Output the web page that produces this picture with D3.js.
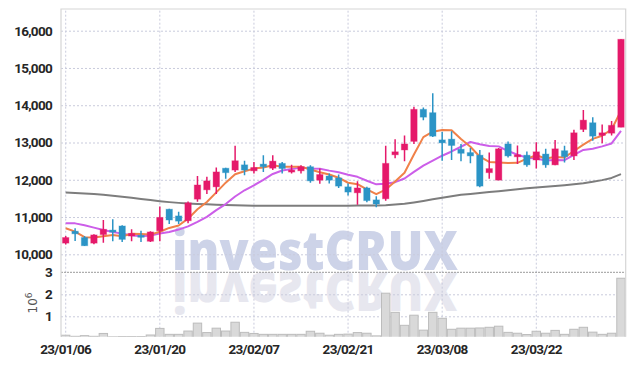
<!DOCTYPE html>
<html>
<head>
<meta charset="utf-8">
<script src="https://cdn.jsdelivr.net/npm/d3@7"></script>
<style>
  body { margin: 0; background: #fff; }
  .tick text { font-family: Roboto, "Liberation Sans Narrow", sans-serif; font-weight: bold; letter-spacing: -0.7px; }
</style>
</head>
<body>
<svg id="chart" width="634" height="366"></svg>
<script>
// trading days (yy/mm/dd)
var dates = ["23/01/06","23/01/09","23/01/10","23/01/11","23/01/12","23/01/13","23/01/16","23/01/17","23/01/18","23/01/19",
  "23/01/20","23/01/25","23/01/26","23/01/27","23/01/30","23/01/31","23/02/01","23/02/02","23/02/03","23/02/06",
  "23/02/07","23/02/08","23/02/09","23/02/10","23/02/13","23/02/14","23/02/15","23/02/16","23/02/17","23/02/20",
  "23/02/21","23/02/22","23/02/23","23/02/24","23/02/27","23/02/28","23/03/02","23/03/03","23/03/06","23/03/07",
  "23/03/08","23/03/09","23/03/10","23/03/13","23/03/14","23/03/15","23/03/16","23/03/17","23/03/20","23/03/21",
  "23/03/22","23/03/23","23/03/24","23/03/27","23/03/28","23/03/29","23/03/30","23/03/31","23/04/03","23/04/04"];

var opens = [10300,10620,10450,10300,10530,10650,10760,10490,10510,10350,10630,11210,11030,10900,11480,11730,11810,12310,12260,12400,
  12240,12420,12310,12440,12230,12240,12350,11990,12100,12050,11810,11650,11780,11460,11490,12670,12800,13030,13890,13800,
  13070,13090,12820,12730,12660,12190,11990,12960,12620,12660,12530,12690,12400,12780,12640,13350,13530,13190,13250,13410];
var highs = [10490,10700,10490,10540,10920,10940,10780,10670,10630,10620,11280,11220,11140,11420,12100,12080,12330,12320,12910,12510,
  12480,12660,12660,12480,12400,12390,12390,12300,12170,12140,11900,11960,11810,11560,12910,13090,13190,13960,13940,14320,
  13280,13300,12960,12850,12800,12730,12850,13030,12920,12760,13010,12830,13070,12910,13340,13870,13680,13480,13580,15770];
var lows = [10260,10360,10220,10270,10310,10350,10330,10350,10330,10330,10350,10810,10810,10830,11410,11620,11620,12030,12210,12120,
  12170,12210,12260,12170,12170,12170,11920,11890,11900,11780,11580,11330,11400,11260,11440,12580,12500,12960,13600,13150,
  12510,12530,12500,12440,11800,12030,11990,12600,12420,12350,12300,12320,12390,12460,12530,13280,13050,12980,13190,13410];
var closes = [10450,10550,10230,10520,10670,10610,10400,10560,10470,10600,10990,10920,10890,11380,11860,11970,12210,12190,12510,12260,
  12330,12350,12500,12300,12260,12350,11970,12140,11990,11830,11670,11780,11440,11350,12440,12750,12960,13890,13680,13170,
  12990,12920,12710,12640,11830,12300,12830,12640,12670,12400,12750,12400,12830,12620,13260,13600,13170,13260,13460,15770];

// volume, millions of shares
var volumes = [0.14,0.09,0.12,0.09,0.22,0.07,0.08,0.08,0.08,0.15,0.45,0.18,0.18,0.33,0.69,0.26,0.46,0.33,0.73,0.27,
  0.22,0.18,0.18,0.18,0.18,0.18,0.32,0.23,0.14,0.18,0.19,0.26,0.23,0.11,2.05,1.18,0.59,1.05,0.37,1.18,
  0.91,0.41,0.46,0.46,0.47,0.50,0.55,0.27,0.23,0.17,0.32,0.23,0.36,0.18,0.41,0.50,0.28,0.18,0.23,2.73];

// moving averages
var ma5 = [10700,10610,10460,10450,10484,10516,10486,10552,10542,10528,10604,10708,10774,10956,11208,11404,11662,11922,12148,12228,
  12300,12328,12390,12348,12348,12352,12276,12204,12142,12056,11920,11882,11742,11614,11736,11952,12188,12678,13144,13290,
  13338,13330,13094,12886,12618,12480,12462,12448,12454,12568,12658,12572,12610,12600,12772,12942,13096,13182,13350,13850];
var ma10 = [10830,10830,10780,10715,10650,10600,10555,10510,10485,10506,10560,10597,10663,10749,10868,11004,11185,11348,11552,11718,
  11852,11995,12156,12248,12288,12326,12302,12297,12245,12202,12136,12079,11973,11878,11896,11936,12035,12210,12379,12513,
  12645,12759,12886,13015,12954,12909,12896,12771,12670,12593,12569,12517,12529,12527,12670,12800,12834,12896,12975,13312];
var maLong = [11660,11645,11630,11615,11595,11570,11545,11515,11485,11455,11425,11400,11380,11365,11350,11340,11330,11320,11315,11310,
  11305,11305,11305,11305,11305,11305,11305,11305,11305,11305,11305,11308,11310,11312,11318,11335,11355,11390,11430,11475,
  11520,11560,11595,11620,11645,11670,11695,11720,11745,11770,11795,11815,11835,11855,11880,11905,11945,11990,12050,12150];

var priceTicks = [10000,11000,12000,13000,14000,15000,16000];
var volTicks = [1,2,3];
var dateTicks = ["23/01/06","23/01/20","23/02/07","23/02/21","23/03/08","23/03/22"];

var plotLeft = 61, plotRight = 625.7, plotTop = 9, priceBottom = 272.3, volBottom = 336.7;
var upColor = "#e5196a", downColor = "#2b94c6";

var svg = d3.select("#chart");

var x = d3.scaleBand().domain(dates).range([plotLeft, plotRight]);
var y = d3.scaleLinear().domain([10000, 16000]).range([254.3, 30.7]);
var yv = d3.scaleLinear().domain([0, 3]).range([338.3, 272.3]);
var cx = function (d) { return x(d) + x.bandwidth() / 2; };

var defs = svg.append("defs");
defs.append("clipPath").attr("id", "clipPrice").append("rect")
  .attr("x", plotLeft).attr("y", plotTop).attr("width", plotRight - plotLeft).attr("height", priceBottom - plotTop);
defs.append("clipPath").attr("id", "clipVol").append("rect")
  .attr("x", plotLeft).attr("y", priceBottom).attr("width", plotRight - plotLeft).attr("height", volBottom - priceBottom);

// watermark with reflection
var wm = svg.append("g").attr("font-family", "'Open Sans', 'DejaVu Sans', sans-serif")
  .attr("font-weight", 800).attr("font-size", 54);
wm.append("text").attr("x", 172).attr("y", 270).attr("textLength", 286).attr("lengthAdjust", "spacingAndGlyphs")
  .attr("fill", "#cdd3e8").text("investCRUX");
wm.append("g").attr("clip-path", "url(#clipVol)")
  .append("text").attr("x", 172).attr("y", 270).attr("textLength", 286).attr("lengthAdjust", "spacingAndGlyphs")
  .attr("transform", "translate(0,542) scale(1,-1)")
  .attr("fill", "#e7e7ef").text("investCRUX");

// grid
var gridStyle = function (g) {
  g.select(".domain").remove();
  g.selectAll(".tick line").attr("stroke", "#c9cbdc").attr("stroke-dasharray", "2,2");
  g.selectAll(".tick text").remove();
};
svg.append("g").attr("transform", "translate(" + plotLeft + ",0)")
  .call(d3.axisLeft(y).tickValues(priceTicks).tickSize(-(plotRight - plotLeft))).call(gridStyle);
svg.append("g").attr("transform", "translate(" + plotLeft + ",0)")
  .call(d3.axisLeft(yv).tickValues([1, 2]).tickSize(-(plotRight - plotLeft))).call(gridStyle);
svg.append("g").attr("transform", "translate(0," + volBottom + ")")
  .call(d3.axisBottom(x).tickValues(dateTicks).tickSize(-(volBottom - plotTop))).call(gridStyle);

// separator between price and volume panels
svg.append("line").attr("x1", plotLeft).attr("x2", plotRight).attr("y1", yv(3)).attr("y2", yv(3))
  .attr("stroke", "#9a9a9a").attr("stroke-dasharray", "2,1");

// volume bars
svg.append("g").attr("clip-path", "url(#clipVol)").selectAll("rect")
  .data(dates).enter().append("rect")
  .attr("x", function (d) { return x(d) + 0.5; })
  .attr("width", x.bandwidth() - 1)
  .attr("y", function (d, i) { return yv(volumes[i]); })
  .attr("height", function (d, i) { return yv(0) - yv(volumes[i]); })
  .attr("fill", "#d9d9d9").attr("stroke", "#bcbcbc").attr("stroke-width", 1);

var price = svg.append("g").attr("clip-path", "url(#clipPrice)");

// moving averages
var lineOf = function (arr) {
  return d3.line().x(function (d) { return cx(d); }).y(function (d, i) { return y(arr[i]); });
};
[[maLong, "#7d7d7d"], [ma10, "#cc5ee9"], [ma5, "#f08149"]].forEach(function (m) {
  price.append("path").datum(dates).attr("d", lineOf(m[0]))
    .attr("fill", "none").attr("stroke", m[1]).attr("stroke-width", 2).attr("stroke-linejoin", "round");
});

// candles
var candle = price.selectAll("g.candle").data(dates).enter().append("g").attr("class", "candle");
var col = function (d, i) { return closes[i] >= opens[i] ? upColor : downColor; };
candle.append("line")
  .attr("x1", cx).attr("x2", cx)
  .attr("y1", function (d, i) { return y(highs[i]); })
  .attr("y2", function (d, i) { return y(lows[i]); })
  .attr("stroke", col).attr("stroke-width", 1.5);
var bodyW = x.bandwidth() * 0.68;
candle.append("rect")
  .attr("x", function (d) { return cx(d) - bodyW / 2; })
  .attr("width", bodyW)
  .attr("y", function (d, i) { return y(Math.max(opens[i], closes[i])); })
  .attr("height", function (d, i) { return Math.max(2, Math.abs(y(opens[i]) - y(closes[i]))); })
  .attr("fill", col).attr("stroke", col).attr("stroke-opacity", 0.35).attr("stroke-width", 1);

// frame
svg.append("path")
  .attr("d", "M" + plotLeft + "," + volBottom + "V" + plotTop + "H" + plotRight + "V" + volBottom)
  .attr("fill", "none").attr("stroke", "#d6d6d6").attr("stroke-width", 1.2);

// axis labels
var labelStyle = function (g) {
  g.select(".domain").remove();
  g.selectAll(".tick line").remove();
  g.selectAll(".tick text").attr("fill", "#262626").attr("font-size", 13.5);
};
svg.append("g").attr("transform", "translate(" + (plotLeft - 6) + ",0)")
  .call(d3.axisLeft(y).tickValues(priceTicks).tickFormat(d3.format(",")).tickSize(0)).call(labelStyle);
svg.append("g").attr("transform", "translate(" + (plotLeft - 6) + ",0)")
  .call(d3.axisLeft(yv).tickValues(volTicks).tickFormat(d3.format("d")).tickSize(0)).call(labelStyle);
svg.append("g").attr("transform", "translate(0," + (volBottom + 5) + ")")
  .call(d3.axisBottom(x).tickValues(dateTicks).tickSize(0)).call(labelStyle);

var unit = svg.append("text").attr("transform", "translate(37,303) rotate(-90)")
  .attr("text-anchor", "middle").attr("font-family", "'DejaVu Sans', sans-serif")
  .attr("font-size", 12).attr("fill", "#555");
unit.append("tspan").text("10");
unit.append("tspan").attr("dy", -5).attr("font-size", 9).text("6");
</script>
</body>
</html>
